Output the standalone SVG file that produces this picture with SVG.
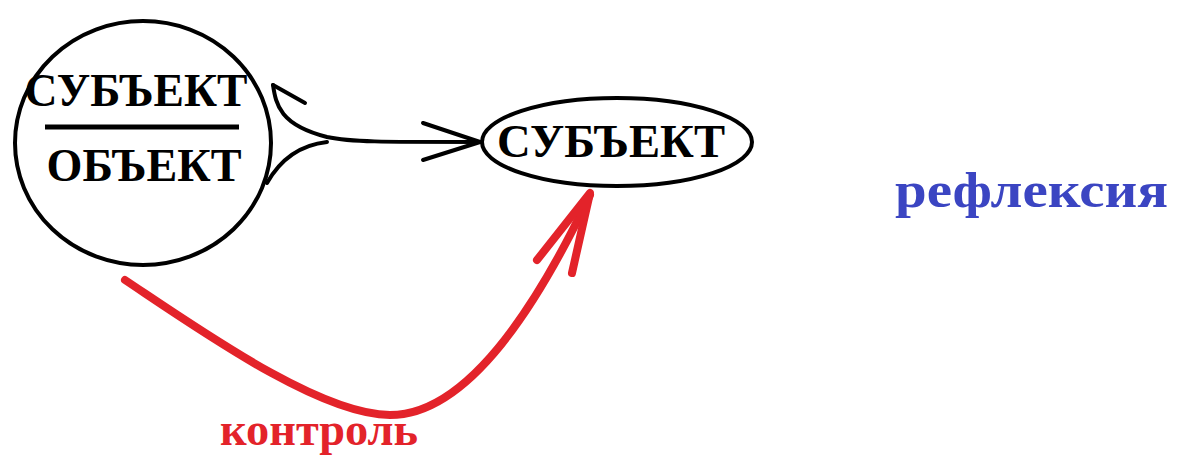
<svg xmlns="http://www.w3.org/2000/svg" width="1177" height="459" viewBox="0 0 1177 459">
<style>
.t{font-family:"Liberation Serif","Times New Roman",serif;font-weight:bold}
.blk{fill:none;stroke:#000;stroke-width:4;stroke-linecap:round;stroke-linejoin:round}
.red{fill:none;stroke:#e3232a;stroke-width:8;stroke-linecap:round;stroke-linejoin:round}
</style>
<rect width="1177" height="459" fill="#fff"/>
<g id="node-left">
<ellipse cx="143" cy="143" rx="128" ry="122" class="blk"/>
<text x="136" y="106" class="t" font-size="46" text-anchor="middle" textLength="223" lengthAdjust="spacingAndGlyphs">СУБЪЕКТ</text>
<line x1="45" y1="127" x2="239" y2="127" stroke="#000" stroke-width="5"/>
<text x="144" y="181" class="t" font-size="46" text-anchor="middle" textLength="195" lengthAdjust="spacingAndGlyphs">ОБЪЕКТ</text>
</g>
<g id="node-right">
<ellipse cx="617" cy="142" rx="135" ry="44" class="blk"/>
<text x="611" y="157" class="t" font-size="47" text-anchor="middle" textLength="228" lengthAdjust="spacingAndGlyphs">СУБЪЕКТ</text>
</g>
<g id="label-reflex">
<text x="895" y="207" class="t" font-size="50" fill="#3b45c2" textLength="273" lengthAdjust="spacingAndGlyphs">рефлексия</text>
</g>
<g id="connectors">
<path class="blk" d="M273,85 C276,105 280,125 327,137 C350,142 380,142 480,142"/>
<path class="blk" d="M305,103 L273,85"/>
<path class="blk" d="M267,183 C280,160 300,145 327,142"/>
<path class="blk" d="M423,123 L480,142 L423,160"/>
<path class="red" d="M125,280 C200,330 320,415 390,415 C470,415 540,300 590,195"/>
<path class="red" d="M537,260 L590,193 L572,273"/>
<text x="220" y="445" class="t" font-size="46" fill="#e3232a" textLength="198" lengthAdjust="spacingAndGlyphs">контроль</text>
</g>
</svg>
